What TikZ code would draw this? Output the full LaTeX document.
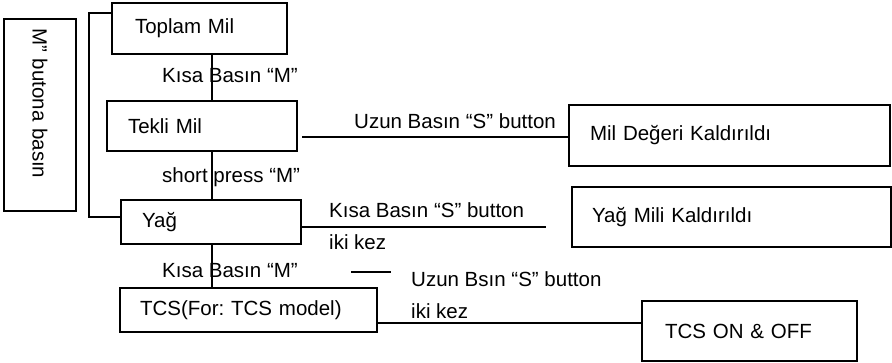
\documentclass[tikz,border=0pt]{standalone}
\usepackage{fontspec}
\setmainfont{Liberation Sans}
\frenchspacing
\newcommand{\fs}{\fontsize{20.5}{24}\selectfont}
\begin{document}
\begin{tikzpicture}[x=1pt,y=-1pt,
  box/.style={draw, line width=1.6pt, font=\fs, align=left, inner ysep=0pt},
  lbl/.style={inner sep=0pt, anchor=base west, font=\fs},
  conn/.style={line width=1.6pt}]
\useasboundingbox (0,0) rectangle (892,362);
% boxes
\node[box, rotate=-90, text width=174pt, inner xsep=9pt, minimum height=72pt] (side) at (40,115) {M” butona basın};
\node[box, text width=129pt, inner xsep=23pt, minimum height=51pt] (toplam) at (199.5,28.5) {Toplam Mil};
\node[box, text width=148pt, inner xsep=21pt, minimum height=50pt] (tekli) at (202,126) {Tekli Mil};
\node[box, text width=138pt, inner xsep=21pt, minimum height=44pt] (yag) at (211,222) {Yağ};
\node[box, text width=217pt, inner xsep=20pt, minimum height=44pt] (tcs) at (248.5,310) {TCS(For: TCS model)};
\node[box, text width=279pt, inner xsep=21pt, minimum height=61pt] (mild) at (729.5,135.5) {Mil Değeri Kaldırıldı};
\node[box, text width=279pt, inner xsep=20pt, minimum height=60pt] (yagm) at (731.5,217) {Yağ Mili Kaldırıldı};
\node[box, text width=169pt, inner xsep=23pt, minimum height=60pt] (tcson) at (749.5,331) {TCS ON \& OFF};
% helper coordinates
\coordinate (vx) at (212,0);
\coordinate (bt) at (89,13);
\coordinate (bb) at (89,217);
\coordinate (t1) at (302,137);
\coordinate (y1) at (546,227);
\coordinate (s1) at (351,272);
\coordinate (s2) at (391,272);
\coordinate (c1) at (0,323);
% connectors
\draw[conn] (toplam.south -| vx) -- (tekli.north -| vx);
\draw[conn] (tekli.south -| vx) -- (yag.north -| vx);
\draw[conn] (yag.south -| vx) -- (tcs.north -| vx);
\draw[conn] (toplam.west |- bt) -- (bt) -- (bb) -- (yag.west |- bb);
\draw[conn] (t1) -- (mild.west |- t1);
\draw[conn] (yag.east |- y1) -- (y1);
\draw[conn] (s1) -- (s2);
\draw[conn] (tcs.east |- c1) -- (tcson.west |- c1);
% labels
\node[lbl] (l1) at (162,82) {Kısa Basın “M”};
\node[lbl] (l2) at (162,182) {short press “M”};
\node[lbl] (l3) at (162,277) {Kısa Basın “M”};
\node[lbl] (l4) at (354,128) {Uzun Basın “S” button};
\node[lbl] (l5) at (329,217) {Kısa Basın “S” button};
\node[lbl] (l6) at (329,249) {iki kez};
\node[lbl] (l7) at (411,286) {Uzun Bsın “S” button};
\node[lbl] (l8) at (411,318) {iki kez};
\end{tikzpicture}
\end{document}
